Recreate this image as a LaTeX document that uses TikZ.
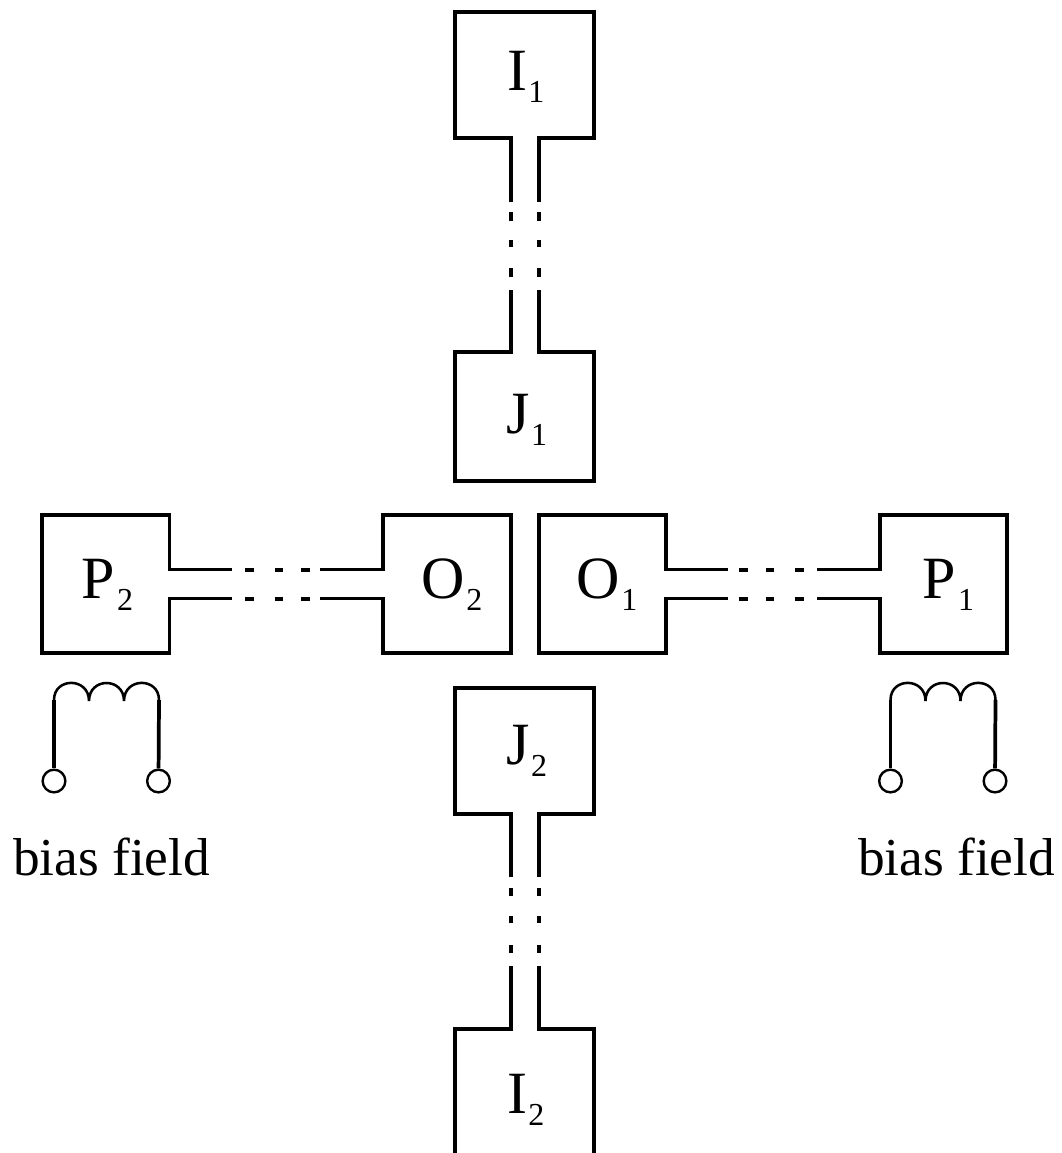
\documentclass[tikz,border=0pt]{standalone}
\usepackage{fontspec}
\setmainfont{Liberation Serif}
\newcommand{\lab}[3][1pt]{{\fontsize{45}{45}\selectfont #2}\kern#1\raisebox{-9pt}{\fontsize{24}{24}\selectfont #3}}
\newcommand{\coilpath}[1]{%
  \draw[coilline,shift={(#1,0)}] (0,700) .. controls (0,677) and (35,677) .. (35,701)
     .. controls (35,677) and (70,677) .. (70,701)
     .. controls (70,677) and (105,677) .. (105,700);}
\tikzset{
  outline/.style={line width=2.3pt,line join=miter,line cap=butt},
  dashpiece/.style={line width=3pt,line cap=butt},
  coilline/.style={line width=1.9pt},
  lead/.style={line width=2.8pt},
  term/.style={circle,draw,line width=1.8pt,minimum size=17pt,inner sep=0pt},
  lab/.style={anchor=base west,inner sep=0pt,outer sep=0pt},
  biaslab/.style={anchor=base west,inner sep=0pt,outer sep=0pt,font=\fontsize{40}{40}\selectfont}
}
\begin{document}
\begin{tikzpicture}[x=0.75pt,y=-0.75pt]
\useasboundingbox (0,0) rectangle (1062,1153);
% I1
\draw[outline] (511,202) -- (511,138) -- (455,138) -- (455,12) -- (594,12) -- (594,138) -- (539,138) -- (539,202);
\foreach \x in {511,539} {
  \draw[dashpiece] (\x,212) -- (\x,221);
  \draw[dashpiece] (\x,240) -- (\x,247);
  \draw[dashpiece] (\x,268) -- (\x,277);
}
% J1
\draw[outline] (511,290) -- (511,352) -- (455,352) -- (455,481) -- (594,481) -- (594,352) -- (539,352) -- (539,290);
% J2
\draw[outline] (511,877) -- (511,814) -- (455,814) -- (455,688) -- (594,688) -- (594,814) -- (539,814) -- (539,877);
\foreach \x in {511,539} {
  \draw[dashpiece] (\x,888) -- (\x,896);
  \draw[dashpiece] (\x,916) -- (\x,923);
  \draw[dashpiece] (\x,945) -- (\x,953);
}
% I2
\draw[outline] (511,966) -- (511,1029) -- (455,1029) -- (455,1153);
\draw[outline] (539,966) -- (539,1029) -- (594,1029) -- (594,1153);
% P2
\draw[outline] (232,569.5) -- (169.5,569.5) -- (169.5,515) -- (42,515) -- (42,653) -- (169.5,653) -- (169.5,598.5) -- (232,598.5);
\foreach \y in {569.5,598.5} {
  \draw[dashpiece] (245,\y) -- (254,\y);
  \draw[dashpiece] (275,\y) -- (283,\y);
  \draw[dashpiece] (301,\y) -- (310,\y);
}
% O2
\draw[outline] (320,569.5) -- (383,569.5) -- (383,515) -- (511,515) -- (511,653) -- (383,653) -- (383,598.5) -- (320,598.5);
% O1
\draw[outline] (728,569.5) -- (666,569.5) -- (666,515) -- (539,515) -- (539,653) -- (666,653) -- (666,598.5) -- (728,598.5);
\foreach \y in {569.5,598.5} {
  \draw[dashpiece] (739,\y) -- (748,\y);
  \draw[dashpiece] (766,\y) -- (774,\y);
  \draw[dashpiece] (795,\y) -- (804,\y);
}
% P1
\draw[outline] (817,569.5) -- (880,569.5) -- (880,515) -- (1007,515) -- (1007,653) -- (880,653) -- (880,598.5) -- (817,598.5);
% labels
\node[lab] (li1) at (507,90) {\lab{I}{1}};
\node[lab] (lj1) at (506.5,433) {\lab{J}{1}};
\node[lab] (lj2) at (506.5,764) {\lab{J}{2}};
\node[lab] (li2) at (507,1113) {\lab{I}{2}};
\node[lab] (lp2) at (81,598) {\lab[2pt]{P}{2}};
\node[lab] (lp1) at (922,598) {\lab[2pt]{P}{1}};
\node[lab] (lo2) at (421,598.5) {\lab[1.5pt]{O}{2}};
\node[lab] (lo1) at (576,598.5) {\lab[1.5pt]{O}{1}};
\node[biaslab] (bl) at (13,875) {bias field};
\node[biaslab] (br) at (858,875) {bias field};
% coils
\coilpath{54}
\coilpath{890.5}
\node[term] (t1) at (54,781) {};
\node[term] (t2) at (158.5,781) {};
\node[term] (t3) at (890.5,781) {};
\node[term] (t4) at (995,781) {};
\coordinate (c1) at (54,700);
\coordinate (c2) at (159,700);
\coordinate (c3) at (890.5,700);
\coordinate (c4) at (995.5,700);
\draw[lead] (c1) -- (t1);
\draw[lead] (c2) -- (t2);
\draw[lead] (c3) -- (t3);
\draw[lead] (c4) -- (t4);
\end{tikzpicture}
\end{document}
